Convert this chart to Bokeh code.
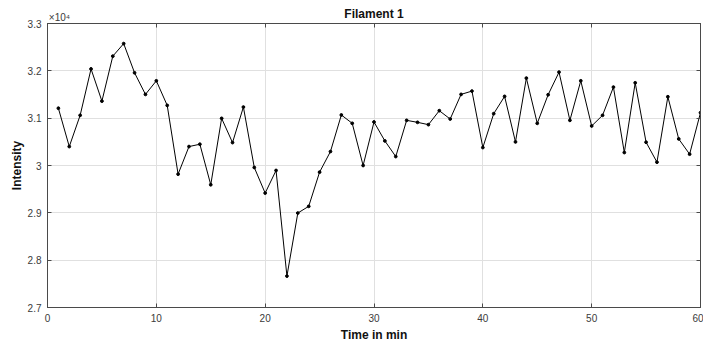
from bokeh.plotting import figure
from bokeh.models import Range1d, FixedTicker, LinearAxis, CustomJSTickFormatter
from bokeh.embed import file_html
from bokeh.resources import INLINE

time_min = list(range(1, 61))
intensity = [31210, 30400, 31060, 32040, 31360, 32310, 32575, 31958, 31502, 31789,
             31270, 29817, 30400, 30449, 29593, 30996, 30484, 31235, 29958, 29417,
             29895, 27663, 28996, 29137, 29860, 30295, 31067, 30891, 30000, 30919,
             30519, 30189, 30954, 30912, 30863, 31158, 30982, 31502, 31572, 30379,
             31095, 31460, 30498, 31846, 30891, 31495, 31972, 30954, 31789, 30835,
             31060, 31656, 30274, 31747, 30491, 30070, 31452, 30561, 30239, 31116]

x_ticks = [0, 10, 20, 30, 40, 50, 60]
y_ticks = [27000, 28000, 29000, 30000, 31000, 32000, 33000]
y_tick_labels = ["2.7", "2.8", "2.9", "3", "3.1", "3.2", "3.3"]
title_text = "Filament 1"
exponent_text = "×10⁴"

AX = "#4a4a4a"
LBL = "#3a3a3a"
FONT = "Liberation Sans"

p = figure(width=703, height=346, output_backend="svg", toolbar_location=None,
           x_range=Range1d(0, 60), y_range=Range1d(27000, 33000),
           min_border_left=47, min_border_right=3, min_border_top=23, min_border_bottom=39)
p.background_fill_color = "white"
p.border_fill_color = "white"
p.outline_line_color = AX
p.outline_line_width = 1

p.line(time_min, intensity, line_color="black", line_width=1)
p.scatter(time_min, intensity, size=2.8, color="black")

for ax in (p.xaxis[0], p.yaxis[0]):
    ax.axis_line_color = AX
    ax.major_tick_line_color = AX
    ax.major_tick_in = 4
    ax.major_tick_out = 0
    ax.minor_tick_line_color = None
    ax.major_label_text_font = FONT
    ax.major_label_text_font_size = "10px"
    ax.major_label_text_color = LBL
    ax.axis_label_text_font = FONT
    ax.axis_label_text_font_size = "12px"
    ax.axis_label_text_font_style = "bold"
    ax.axis_label_text_color = "#111111"

p.xaxis[0].ticker = FixedTicker(ticks=x_ticks)
p.xaxis[0].axis_label = "Time in min"
p.xaxis[0].major_label_standoff = 6
p.xaxis[0].axis_label_standoff = 3

p.yaxis[0].ticker = FixedTicker(ticks=y_ticks)
p.yaxis[0].major_label_overrides = {t: l for t, l in zip(y_ticks, y_tick_labels)}
p.yaxis[0].axis_label = "Intensity"
p.yaxis[0].major_label_standoff = 6
p.yaxis[0].axis_label_standoff = 1

blank = CustomJSTickFormatter(code="return ''")
top = LinearAxis(ticker=FixedTicker(ticks=x_ticks), formatter=blank,
                 major_tick_in=4, major_tick_out=0, minor_tick_line_color=None,
                 axis_line_color=AX, major_tick_line_color=AX,
                 major_label_standoff=0, major_label_text_font_size="0px")
right = LinearAxis(ticker=FixedTicker(ticks=y_ticks), formatter=blank,
                   major_tick_in=4, major_tick_out=0, minor_tick_line_color=None,
                   axis_line_color=AX, major_tick_line_color=AX,
                   major_label_standoff=0, major_label_text_font_size="0px")
p.add_layout(top, "above")
p.add_layout(right, "right")

# exponent marker and title carried by a second, line-less top axis
head = LinearAxis(ticker=FixedTicker(ticks=[1.1]),
                  formatter=CustomJSTickFormatter(code=f"return '{exponent_text}'"),
                  axis_line_color=None, major_tick_line_color=None,
                  minor_tick_line_color=None, major_tick_in=0, major_tick_out=0,
                  major_label_standoff=1, major_label_text_font=FONT,
                  major_label_text_font_size="10px", major_label_text_color=LBL,
                  axis_label=title_text, axis_label_standoff=-12,
                  axis_label_text_font=FONT, axis_label_text_font_size="12px",
                  axis_label_text_font_style="bold", axis_label_text_color="#111111")
p.add_layout(head, "above")

p.xgrid.ticker = FixedTicker(ticks=x_ticks)
p.ygrid.ticker = FixedTicker(ticks=y_ticks)
p.grid.grid_line_color = "#e0e0e0"
p.grid.grid_line_width = 1

open("out.html", "w").write(file_html(p, INLINE))
